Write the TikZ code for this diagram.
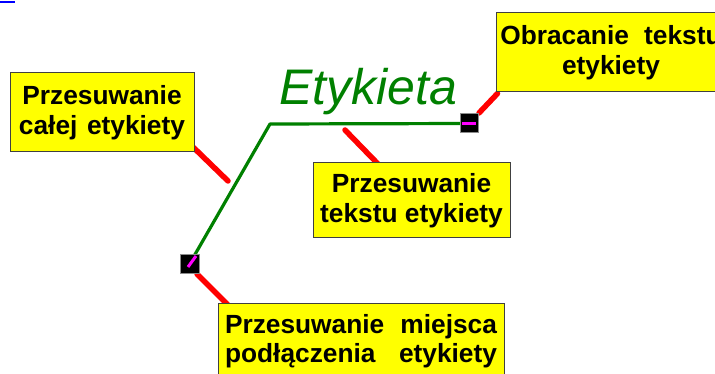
\documentclass[tikz,border=0pt]{standalone}
\usepackage{fontspec}
\setmainfont{Liberation Sans}
\definecolor{etgreen}{RGB}{0,128,0}
\definecolor{etred}{RGB}{255,0,0}
\definecolor{etyellow}{RGB}{255,255,0}
\definecolor{etmagenta}{RGB}{255,0,255}
\definecolor{etblue}{RGB}{0,0,255}
\newcommand\calloutfont{\fontsize{26.3}{29.5}\selectfont\bfseries}
\pgfdeclarelayer{background}
\pgfdeclarelayer{top}
\pgfsetlayers{background,main,top}
\begin{document}
\begin{tikzpicture}[x=1pt,y=-1pt,
  callout/.style={draw=black!75,line width=1pt,fill=etyellow,inner sep=0pt,
    align=center,font=\calloutfont},
  handle/.style={draw=black!45,line width=1pt,fill=black,inner sep=0pt},
  pointer/.style={draw=etred,line width=5.5pt,line cap=round},
  leader/.style={draw=etgreen,line width=3.2pt,line join=round},
  grip/.style={draw=etmagenta,line width=3pt}]
\useasboundingbox (0,0) rectangle (715,374);
\clip (0,0) rectangle (715,374);
% stray blue mark
\coordinate (bl1) at (0,2);
\coordinate (bl2) at (15,2);
\draw[etblue,line width=2.5pt] (bl1) -- (bl2);
% callout boxes
\node[callout,minimum width=184pt,minimum height=79pt] (b1) at (102,112.5)
  {\hbox to 166pt{\hfill Przesuwanie\hfill}\\\hbox to 166pt{całej\hfill etykiety}};
\node[callout,minimum width=230pt,minimum height=79pt] (b2) at (611,52.5)
  {Obracanie\hspace{0.3em} tekstu\\etykiety};
\node[callout,minimum width=197pt,minimum height=75pt] (b3) at (411.5,200.5)
  {Przesuwanie\\tekstu etykiety};
\node[callout,minimum width=286pt,minimum height=76pt] (b4) at (361,341)
  {\hbox to 272pt{Przesuwanie\hfill miejsca}\\\hbox to 272pt{podłączenia\hfill etykiety}};
% handles
\coordinate (corner) at (270,124);
\node[handle,minimum width=19pt,minimum height=18pt] (sqA) at (189.5,264) {};
\node[handle,minimum width=18pt,minimum height=19pt] (sqB) at (469,123.5) {};
% free ends of pointers
\coordinate (p1) at (228,181);
\coordinate (p3) at (345,130);
\coordinate (p2s) at (479,113);
\coordinate (p4s) at (197,274);
% pointers (underneath)
\begin{pgfonlayer}{background}
\draw[pointer] ([xshift=-1pt,yshift=5pt]b1.south east) -- (p1);
\draw[pointer] (p2s) -- ([xshift=2pt,yshift=-1pt]b2.south west);
\draw[pointer] (p3) -- ([xshift=-33pt,yshift=-2pt]b3.north);
\draw[pointer] (p4s) -- ([xshift=10pt,yshift=-2pt]b4.north west);
\draw[leader] (sqA.center) -- (corner) -- (sqB.center);
\end{pgfonlayer}
\begin{pgfonlayer}{top}
\coordinate (gA1) at (188,267);
\coordinate (gA2) at (196,256);
\coordinate (gB1) at (462,123.5);
\coordinate (gB2) at (476,123.5);
\draw[grip] (gA1) -- (gA2);
\draw[grip] (gB1) -- (gB2);
\end{pgfonlayer}
% label text
\node[anchor=base west,inner sep=0pt,text=etgreen,
  font=\fontsize{50}{50}\selectfont\itshape] (et) at (279,105) {Etykieta};
\end{tikzpicture}
\end{document}
